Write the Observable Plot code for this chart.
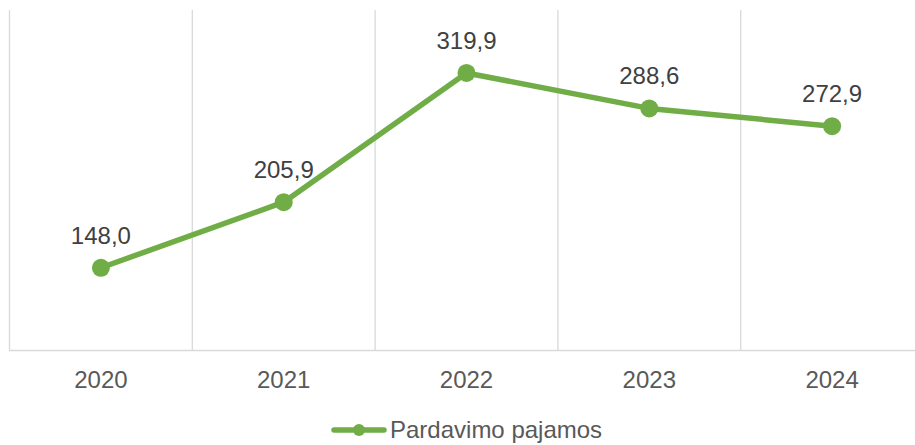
<!DOCTYPE html>
<html>
<head>
<meta charset="utf-8">
<script src="https://cdn.jsdelivr.net/npm/d3@7"></script>
<script src="https://cdn.jsdelivr.net/npm/@observablehq/plot@0.6"></script>
<style>
  html, body { margin: 0; padding: 0; background: #fff; }
  #wrap { position: relative; width: 915px; height: 445px; overflow: hidden; font-family: "Liberation Sans", Arial, sans-serif; }
  #legend { position: absolute; left: 331px; top: 414px; height: 32px; display: flex; align-items: center; font-size: 24px; color: #595959; white-space: nowrap; }
  #legend svg { display: block; margin-right: 3px; }
</style>
</head>
<body>
<div id="wrap"><div id="chart"></div><div id="legend"></div></div>
<script>
const years = [2020, 2021, 2022, 2023, 2024];
const values = [148.0, 205.9, 319.9, 288.6, 272.9];
const labels = ["148,0", "205,9", "319,9", "288,6", "272,9"];
const tickLabels = ["2020", "2021", "2022", "2023", "2024"];
const seriesName = "Pardavimo pajamos";

const green = "#70AD47";
const data = years.map((y, i) => ({year: y, value: values[i], label: labels[i], tick: tickLabels[i]}));
const bounds = [years[0] - 0.5, ...years.map(y => y + 0.5)];
const xMin = years[0] - 0.5, xMax = years[years.length - 1] + 0.5;
const yMin = 75, yMax = 375;

const chart = Plot.plot({
  width: 915,
  height: 405,
  marginTop: 0, marginBottom: 0, marginLeft: 0, marginRight: 0,
  style: {fontFamily: "Liberation Sans, Arial, sans-serif", fontSize: "24px", color: "#595959", background: "#fff", overflow: "hidden"},
  x: {type: "linear", domain: [xMin, xMax], range: [9, 923], axis: null},
  y: {domain: [yMin, yMax], range: [350, 10], axis: null},
  marks: [
    Plot.ruleX(bounds, {x: d => d, y1: yMin, y2: yMax, stroke: "#D9D9D9", strokeWidth: 1.3}),
    Plot.ruleY([yMin], {x1: xMin, x2: xMax, stroke: "#D9D9D9", strokeWidth: 1.5}),
    Plot.text(data, {x: "year", y: yMin, text: "tick", dy: 20, lineAnchor: "top", textAnchor: "middle", fill: "#595959", fontSize: 24}),
    Plot.line(data, {x: "year", y: "value", stroke: green, strokeWidth: 5.5, strokeLinejoin: "round", strokeLinecap: "round"}),
    Plot.dot(data, {x: "year", y: "value", r: 9, fill: green, stroke: "none"}),
    Plot.text(data, {x: "year", y: "value", text: "label", dy: -24, lineAnchor: "bottom", textAnchor: "middle", fill: "#404040", fontSize: 24})
  ]
});
document.getElementById("chart").appendChild(chart);

const legend = document.getElementById("legend");
legend.innerHTML = `<svg width="56" height="14"><line x1="3" y1="7" x2="53" y2="7" stroke="${green}" stroke-width="5.5" stroke-linecap="round"/><circle cx="28" cy="7" r="6" fill="${green}"/></svg><span>${seriesName}</span>`;
</script>
</body>
</html>
